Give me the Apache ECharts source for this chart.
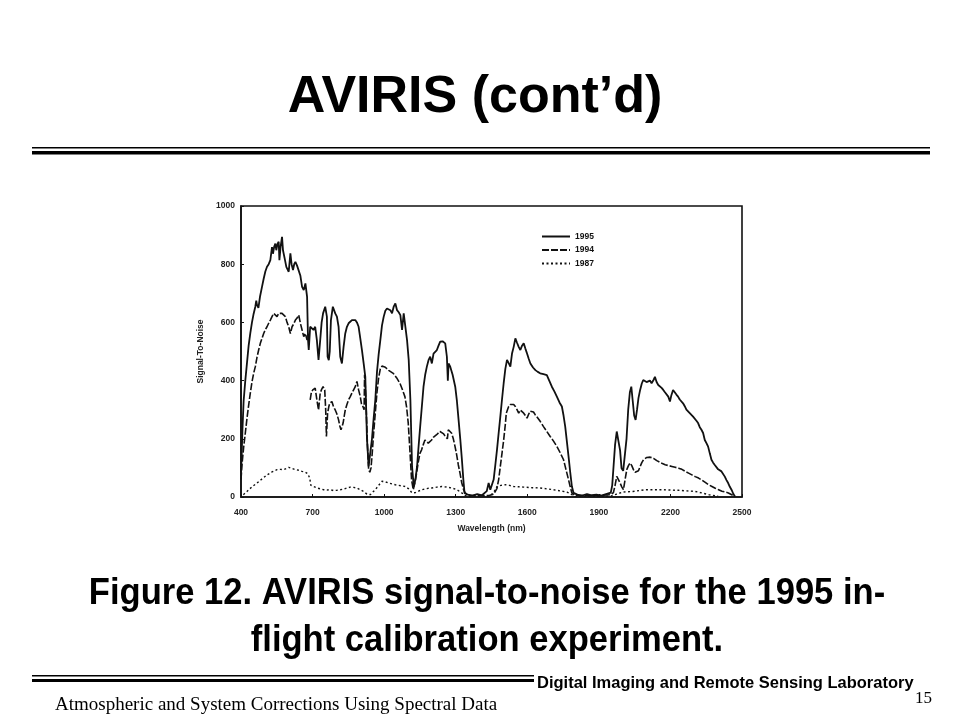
<!DOCTYPE html>
<html>
<head>
<meta charset="utf-8">
<script src="https://cdn.jsdelivr.net/npm/echarts@6/dist/echarts.min.js"></script>
<style>
html,body{margin:0;padding:0;background:#fff;}
#chart{width:960px;height:720px;}
</style>
</head>
<body>
<div id="chart"></div>
<script>
// ---- Data ----
const seriesNames = ['1995', '1994', '1987'];
const xTicks = [400, 700, 1000, 1300, 1600, 1900, 2200, 2500];
const yTicks = [0, 200, 400, 600, 800, 1000];

const wl1995 = [400,403,406,411,418,425,432,439,446,453,460,464,467,473,480,488,495,502,509,516,523,527,530,534,539,544,548,553,558,561,566,572,576,583,590,595,600,604,607,612,618,623,628,635,642,649,656,663,670,677,681,684,690,697,704,711,718,725,732,738,744,753,760,763,768,772,777,785,795,802,809,816,823,830,837,844,851,865,879,886,893,900,907,914,921,928,935,942,949,956,963,970,977,984,991,998,1005,1012,1019,1026,1033,1040,1047,1054,1061,1068,1075,1082,1089,1096,1103,1110,1117,1124,1131,1138,1144,1151,1158,1165,1172,1179,1186,1193,1200,1207,1214,1221,1228,1235,1245,1256,1263,1267,1270,1277,1287,1298,1305,1312,1319,1326,1332,1337,1350,1370,1390,1410,1430,1438,1445,1452,1459,1466,1473,1480,1487,1494,1501,1508,1515,1522,1529,1536,1543,1550,1557,1564,1571,1578,1585,1592,1599,1606,1613,1624,1634,1644,1654,1668,1682,1692,1703,1714,1724,1735,1745,1752,1759,1766,1773,1780,1787,1794,1810,1830,1850,1870,1890,1910,1930,1950,1956,1962,1968,1975,1983,1989,1995,2002,2009,2016,2023,2030,2036,2042,2048,2054,2060,2066,2073,2080,2086,2093,2100,2107,2114,2121,2128,2135,2142,2149,2156,2163,2170,2177,2184,2191,2198,2204,2211,2218,2225,2232,2239,2246,2253,2260,2267,2274,2281,2288,2295,2302,2309,2316,2323,2330,2337,2344,2351,2358,2365,2372,2379,2386,2393,2400,2407,2414,2421,2428,2435,2442,2449,2456,2463,2470];
const snr1995 = [85,150,230,330,400,460,520,563,600,630,654,675,660,650,690,722,750,775,791,800,814,840,859,836,860,871,848,870,877,814,860,894,848,820,791,785,774,810,837,800,780,800,808,795,791,760,722,711,734,688,539,505,585,580,574,585,539,471,539,600,631,654,620,482,470,500,608,654,631,620,585,482,459,516,562,585,597,608,608,600,585,545,505,460,413,200,105,110,200,270,334,430,490,539,590,619,640,648,650,642,631,654,665,642,635,625,574,631,631,539,471,334,105,36,60,105,170,242,310,379,420,448,470,482,459,493,495,505,520,534,535,528,482,400,459,448,420,379,330,265,200,128,60,14,8,5,10,6,20,48,25,30,60,110,162,220,276,335,391,440,471,460,448,493,516,545,530,516,505,520,528,510,493,475,459,445,436,430,425,422,419,400,379,362,345,325,311,280,242,190,139,85,36,14,8,5,10,6,8,5,10,15,40,110,180,225,230,160,99,90,85,200,300,360,379,330,280,265,300,340,368,390,402,400,395,396,400,391,400,413,395,385,380,375,368,360,355,345,328,350,368,360,352,345,335,330,322,312,300,294,288,282,276,270,262,254,240,231,220,196,185,173,150,128,118,110,105,95,92,88,82,70,58,48,35,25,12,2];

const wl1994 = [400,405,411,418,425,432,439,446,453,460,467,474,481,488,495,502,509,516,523,530,537,544,551,558,565,572,579,586,593,600,607,614,621,628,635,642,649,656,663,670,677,683,690,695,701,706,711,718,725,732,738,744,751,755,758,763,768,772,781,788,795,802,809,814,819,823,828,833,837,844,851,858,865,872,879,886,893,900,905,911,916,918,921,925,930,935,940,945,950,956,963,970,977,984,991,998,1005,1012,1019,1026,1038,1052,1066,1076,1087,1094,1101,1108,1115,1122,1129,1136,1143,1150,1157,1164,1171,1178,1185,1192,1199,1206,1213,1220,1227,1234,1241,1248,1255,1262,1265,1269,1276,1283,1290,1297,1304,1311,1318,1325,1332,1339,1360,1400,1440,1460,1473,1480,1487,1494,1501,1508,1512,1517,1522,1529,1536,1543,1550,1557,1564,1571,1578,1585,1592,1599,1606,1612,1619,1626,1633,1640,1654,1668,1682,1696,1710,1724,1738,1752,1762,1773,1780,1787,1800,1850,1900,1950,1961,1968,1975,1982,1989,1996,2003,2010,2017,2024,2031,2038,2045,2052,2059,2066,2073,2080,2087,2094,2101,2108,2115,2122,2129,2136,2143,2150,2164,2178,2192,2206,2220,2234,2248,2262,2276,2290,2304,2318,2332,2346,2360,2374,2388,2402,2416,2430,2443,2457,2471];
const snr1994 = [60,120,170,219,270,315,357,395,425,448,480,505,528,545,562,575,585,597,608,620,631,625,620,631,628,631,625,620,600,585,562,585,595,608,615,625,597,574,551,562,539,null,334,360,368,372,374,334,299,357,370,379,368,300,208,288,310,322,328,310,299,285,265,245,231,240,254,280,299,318,334,345,357,368,379,397,368,345,320,311,300,420,380,300,180,95,85,100,150,220,290,360,410,440,450,454,446,440,435,430,425,410,391,370,345,310,254,160,59,25,50,82,120,150,162,180,196,192,185,190,196,205,210,214,220,225,225,218,210,208,200,231,228,219,200,174,145,110,82,50,28,14,5,5,5,10,30,60,105,150,196,250,288,300,311,318,322,318,311,300,288,299,295,288,280,271,285,295,299,292,283,276,260,242,225,208,192,174,152,128,95,59,35,14,5,5,5,8,15,40,71,60,48,35,25,60,94,108,117,108,94,85,82,90,105,118,128,134,136,137,137,137,133,128,125,122,116,111,108,105,102,99,95,88,82,76,70,65,58,50,42,36,30,25,20,17,14,8,2];

const wl1987 = [410,425,446,467,488,509,530,551,565,579,590,600,614,628,642,656,670,680,688,693,700,718,732,746,760,774,788,802,816,830,844,858,872,886,900,914,928,935,942,950,963,977,991,1005,1019,1033,1047,1061,1075,1089,1103,1117,1124,1131,1144,1158,1172,1186,1200,1221,1242,1263,1284,1305,1326,1337,1360,1400,1440,1459,1473,1490,1508,1525,1543,1564,1585,1620,1654,1682,1710,1738,1766,1787,1800,1850,1900,1950,1975,2000,2021,2042,2068,2094,2129,2164,2199,2234,2269,2304,2332,2360,2400];
const snr1987 = [8,19,35,48,62,76,86,94,95,94,98,102,98,94,92,88,85,80,65,40,36,31,28,25,24,25,22,23,25,27,31,34,33,31,25,19,10,5,8,15,25,40,54,52,48,45,42,40,38,36,28,14,10,15,20,25,28,30,31,34,36,34,31,25,14,5,2,2,2,15,36,40,42,40,36,35,34,32,31,28,25,21,17,8,2,2,2,3,10,17,18,19,22,25,25,25,24,23,21,19,14,8,3];

function pairs(xs, ys) {
  return xs.map((x, i) => [x, ys[i] === null ? '-' : ys[i]]);
}

const chart = echarts.init(document.getElementById('chart'), null, {renderer: 'canvas'});
const ink = '#111';
const labelFont = {fontFamily: 'Liberation Sans', fontWeight: 'bold', fontSize: 8.5, color: '#222'};
const plain = v => String(v);

const option = {
  animation: false,
  backgroundColor: '#fff',
  grid: {left: 241, right: 218, top: 206, bottom: 223, show: true, borderColor: ink, borderWidth: 1.6},
  legend: {
    data: seriesNames, orient: 'vertical', left: 536, top: 227,
    itemWidth: 28, itemHeight: 8, itemGap: 4.5,
    itemStyle: {opacity: 0},
    textStyle: Object.assign({}, labelFont, {fontSize: 8.5, color: ink})
  },
  xAxis: {
    type: 'value', min: xTicks[0], max: xTicks[xTicks.length - 1], interval: xTicks[1] - xTicks[0],
    axisLine: {show: true, lineStyle: {color: ink, width: 1.6}},
    axisTick: {show: true, inside: true, length: 3, lineStyle: {color: ink}},
    axisLabel: Object.assign({margin: 11, formatter: plain}, labelFont),
    splitLine: {show: false},
    name: 'Wavelength (nm)', nameLocation: 'middle', nameGap: 27,
    nameTextStyle: Object.assign({}, labelFont)
  },
  yAxis: {
    type: 'value', min: yTicks[0], max: yTicks[yTicks.length - 1], interval: yTicks[1] - yTicks[0],
    axisLine: {show: true, lineStyle: {color: ink, width: 1.6}},
    axisTick: {show: true, inside: true, length: 3, lineStyle: {color: ink}},
    axisLabel: Object.assign({margin: 6, formatter: plain}, labelFont),
    splitLine: {show: false},
    name: 'Signal-To-Noise', nameLocation: 'middle', nameGap: 31, nameRotate: 90,
    nameTextStyle: Object.assign({}, labelFont)
  },
  series: [
    {name: seriesNames[0], type: 'line', symbol: 'none', data: pairs(wl1995, snr1995),
     lineStyle: {color: ink, width: 1.8}, itemStyle: {color: ink}},
    {name: seriesNames[1], type: 'line', symbol: 'none', data: pairs(wl1994, snr1994), connectNulls: false,
     lineStyle: {color: ink, width: 1.6, type: [7, 2]}, itemStyle: {color: ink}},
    {name: seriesNames[2], type: 'line', symbol: 'none', data: pairs(wl1987, snr1987),
     lineStyle: {color: ink, width: 1.4, type: [2, 2.5]}, itemStyle: {color: ink}}
  ],
  graphic: [
    {type: 'text', x: 475, y: 98, style: {text: 'AVIRIS (cont\u2019d)', font: 'bold 52px "Liberation Sans", Arial, sans-serif',
      textAlign: 'center', textVerticalAlign: 'middle', fill: '#000',
      shadowColor: 'rgba(0,0,0,0.35)', shadowOffsetX: 3, shadowOffsetY: 3, shadowBlur: 2}},
    {type: 'rect', shape: {x: 32, y: 147, width: 898, height: 1.5}, style: {fill: '#000'}},
    {type: 'rect', shape: {x: 32, y: 151, width: 898, height: 3.5}, style: {fill: '#000'}},
    {type: 'text', x: 487, y: 594, scaleX: 0.96, style: {text: 'Figure 12. AVIRIS signal-to-noise for the 1995 in-',
      font: 'bold 36px "Liberation Sans", Arial, sans-serif', textAlign: 'center', textVerticalAlign: 'middle', fill: '#000'}},
    {type: 'text', x: 487, y: 641, scaleX: 0.96, style: {text: 'flight calibration experiment.',
      font: 'bold 36px "Liberation Sans", Arial, sans-serif', textAlign: 'center', textVerticalAlign: 'middle', fill: '#000'}},
    {type: 'rect', shape: {x: 32, y: 675, width: 502, height: 1.5}, style: {fill: '#000'}},
    {type: 'rect', shape: {x: 32, y: 679, width: 502, height: 3}, style: {fill: '#000'}},
    {type: 'text', x: 537, y: 683, scaleX: 0.97, style: {text: 'Digital Imaging and Remote Sensing Laboratory',
      font: 'bold 17px "Liberation Sans", Arial, sans-serif', textAlign: 'left', textVerticalAlign: 'middle', fill: '#000'}},
    {type: 'text', x: 55, y: 705, style: {text: 'Atmospheric and System Corrections Using Spectral Data',
      font: '19px "Liberation Serif", "Times New Roman", serif', textAlign: 'left', textVerticalAlign: 'middle', fill: '#000'}},
    {type: 'text', x: 932, y: 699, style: {text: '15',
      font: '17px "Liberation Serif", "Times New Roman", serif', textAlign: 'right', textVerticalAlign: 'middle', fill: '#000'}}
  ]
};
chart.setOption(option);
</script>
</body>
</html>
